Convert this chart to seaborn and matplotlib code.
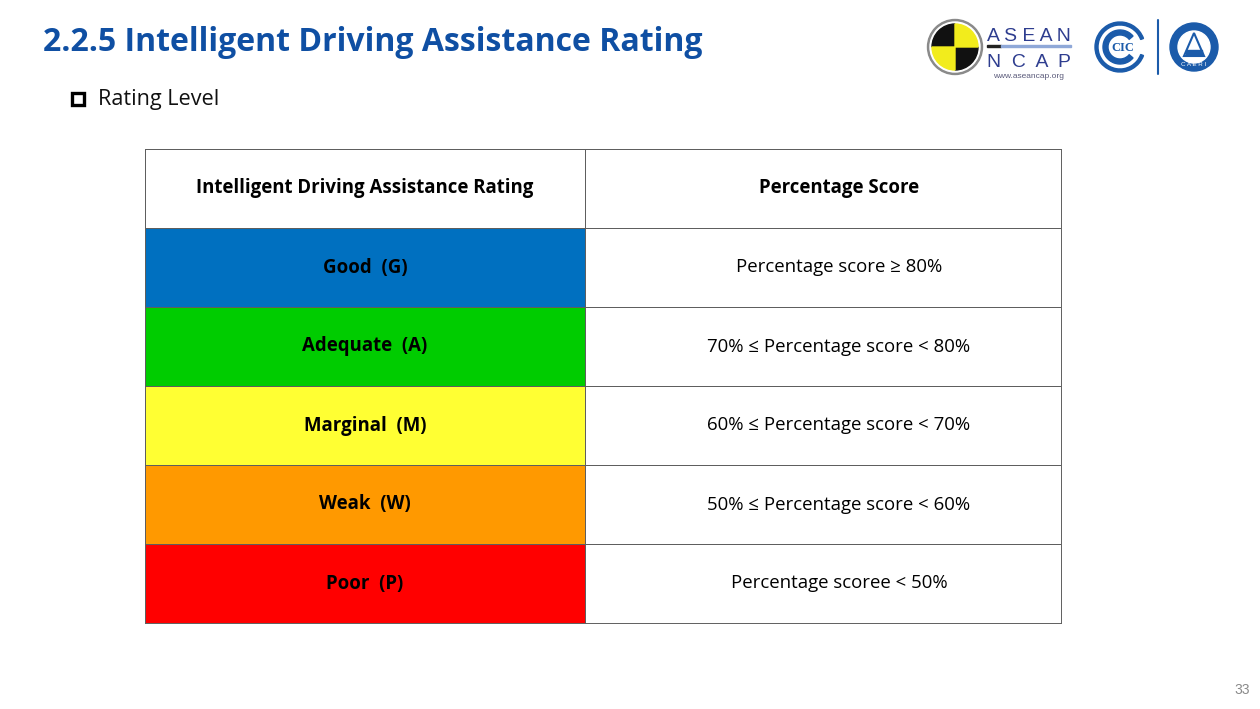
import numpy as np
import matplotlib
matplotlib.use("Agg")
import matplotlib.pyplot as plt
from matplotlib.colors import ListedColormap
from matplotlib.patches import Circle, Wedge, Rectangle, Polygon
import seaborn as sns

# Table content
header = ["Intelligent Driving Assistance Rating", "Percentage Score"]
ratings = ["Good\u00a0\u00a0(G)", "Adequate\u00a0\u00a0(A)", "Marginal\u00a0\u00a0(M)",
           "Weak\u00a0\u00a0(W)", "Poor\u00a0\u00a0(P)"]
scores = ["Percentage score \u2265 80%",
          "70% \u2264 Percentage score < 80%",
          "60% \u2264 Percentage score < 70%",
          "50% \u2264 Percentage score < 60%",
          "Percentage scoree < 50%"]
rating_colors = ["#FFFFFF", "#0070C0", "#00CC00", "#FFFF33", "#FF9900", "#FF0000"]

sns.set_theme(style="white")
plt.rcParams["font.family"] = ["Open Sans", "DejaVu Sans"]

fig = plt.figure(figsize=(12.6, 7.09), dpi=100)
W, H = 1260, 709

def box(x0, y0, x1, y1):
    return [x0 / W, 1 - y1 / H, (x1 - x0) / W, (y1 - y0) / H]

line_col = "#5e5e5e"

# left column: colored rating cells
ax_l = fig.add_axes(box(145, 149, 585, 623))
left_vals = np.arange(len(rating_colors)).reshape(-1, 1)
left_text = np.array([header[0]] + ratings).reshape(-1, 1)
sns.heatmap(left_vals, ax=ax_l, cmap=ListedColormap(rating_colors), cbar=False,
            annot=left_text, fmt="", linewidths=0.5, linecolor=line_col,
            xticklabels=False, yticklabels=False,
            annot_kws={"color": "black", "fontweight": "bold", "fontsize": 13})

# right column: score ranges
ax_r = fig.add_axes(box(585, 149, 1061, 623))
right_vals = np.zeros((len(scores) + 1, 1))
right_text = np.array([header[1]] + scores).reshape(-1, 1)
sns.heatmap(right_vals, ax=ax_r, cmap=ListedColormap(["#FFFFFF"]), cbar=False,
            annot=right_text, fmt="", linewidths=0.5, linecolor=line_col,
            xticklabels=False, yticklabels=False,
            annot_kws={"color": "black", "fontsize": 13})
ax_r.texts[0].set_fontweight("bold")
for t in ax_r.texts:
    t.set_x(0.5 + 16 / 476)

for ax in (ax_l, ax_r):
    for s in ax.spines.values():
        s.set_visible(True)
        s.set_color(line_col)
        s.set_linewidth(0.7)

# overlay in pixel coordinates for slide decorations
ov = fig.add_axes([0, 0, 1, 1], zorder=-1)
ov.set_xlim(0, W)
ov.set_ylim(H, 0)
ov.axis("off")

title = ov.text(43, 51, "2.2.5 Intelligent Driving Assistance Rating", color="#0F4FA3",
                fontsize=26, fontweight="bold", va="baseline", ha="left")
ov.add_patch(Rectangle((72, 93), 12, 12, fill=False, ec="black", lw=2.4))
sub = ov.text(98, 100, "Rating Level", fontsize=15, va="center", ha="left", color="#111111")
ov.text(1250, 690, "33", fontsize=10, color="#8a8a8a", ha="right", va="center",
        family=["Liberation Sans", "DejaVu Sans"])

# ASEAN NCAP logo (y axis is inverted, so angles run clockwise)
cx, cy, r = 955, 47, 26
ov.add_patch(Circle((cx, cy), r + 1.5, color="#8a8a8a"))
ov.add_patch(Circle((cx, cy), r - 1, color="white"))
ov.add_patch(Wedge((cx, cy), r - 3, 180, 270, color="#111111"))
ov.add_patch(Wedge((cx, cy), r - 3, 0, 90, color="#111111"))
ov.add_patch(Wedge((cx, cy), r - 3, 270, 360, color="#F2EC1C"))
ov.add_patch(Wedge((cx, cy), r - 3, 90, 180, color="#F2EC1C"))
navy = "#2E3D8F"
logo_font = ["Liberation Sans", "DejaVu Sans"]
asean = ov.text(987, 41, "A S E A N", color=navy, fontsize=14, ha="left", va="baseline",
                family=logo_font)
ov.add_patch(Rectangle((987, 44.5), 14, 2.5, color="#222222"))
ov.add_patch(Rectangle((1001, 44.5), 70, 2.5, color="#8FA8D8"))
ncap = ov.text(987, 67, "N  C  A  P", color=navy, fontsize=14, ha="left", va="baseline",
               family=logo_font)
ov.text(1029, 76, "www.aseancap.org", color="#5a5a7a", fontsize=6, ha="center", va="center",
        family=logo_font)

# CIC logo
blue = "#1B5BAA"
ov.add_patch(Wedge((1120, 47), 25, 20, 340, width=3, color=blue))
ov.add_patch(Wedge((1120, 47), 17, 40, 320, width=5, color=blue))
ov.text(1123, 48, "CIC", color=blue, fontsize=9, ha="center", va="center",
        family=["Liberation Serif", "DejaVu Serif"], fontweight="bold")
ov.plot([1158, 1158], [20, 74], color=blue, lw=1.5)

# CAERI logo
ov.add_patch(Circle((1194, 47), 24, color=blue))
ov.add_patch(Circle((1194, 47), 16, color="white"))
ov.add_patch(Polygon([[1194, 33], [1184, 56], [1204, 56]], closed=True, fill=False,
                     ec=blue, lw=1.5))
ov.add_patch(Rectangle((1186, 50), 16, 5, color=blue))
ov.text(1194, 64, "C A E R I", color="white", fontsize=4.5, ha="center", va="center",
        family=logo_font)

# fit text widths to the reference
fig.canvas.draw()
def fit(t, target):
    w = t.get_window_extent().width
    t.set_fontsize(t.get_fontsize() * target / w)

fit(title, 661)
fit(sub, 121)
fit(asean, 84)
fit(ncap, 84)
head_t = ax_l.texts[0]
fit(head_t, 335)
size = head_t.get_fontsize()
for t in ax_l.texts + ax_r.texts:
    t.set_fontsize(size)

fig.savefig("out.png", dpi=100)
